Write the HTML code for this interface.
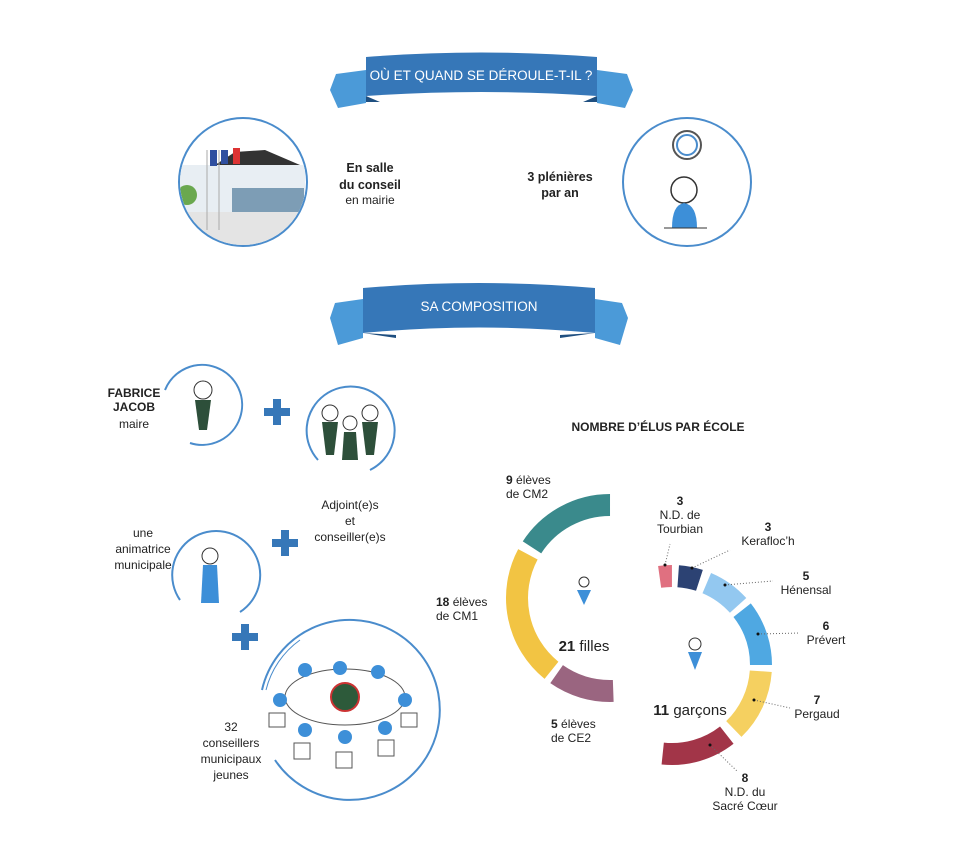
<!DOCTYPE html>
<html><head><meta charset="utf-8"><style>
body{margin:0;background:#fff;}
svg text{font-family:"Liberation Sans",sans-serif;fill:#222;}
</style></head><body>
<svg width="960" height="849" viewBox="0 0 960 849" xmlns="http://www.w3.org/2000/svg">
<defs><clipPath id="c1"><circle cx="243" cy="182" r="63"/></clipPath></defs>
<!-- banner 1 -->
<path d="M366 70 L336 74 L330 90 L338 108 L366 103 Z" fill="#4b9ad8"/>
<path d="M597 70 L627 74 L633 90 L625 108 L597 103 Z" fill="#4b9ad8"/>
<path d="M366 57 Q481 48 597 57 L597 96 Q481 88 366 96 Z" fill="#3677b8"/>
<path d="M366 96 L380 102 L366 102 Z M597 96 L583 102 L597 102Z" fill="#1f4f80"/>
<text x="481" y="80" font-size="13.5" style="fill:#fff" text-anchor="middle">OÙ ET QUAND SE DÉROULE-T-IL ?</text>
<!-- banner 2 -->
<path d="M363 299 L335 303 L330 318 L338 345 L363 338 Z" fill="#4b9ad8"/>
<path d="M595 299 L622 303 L628 318 L620 345 L595 338 Z" fill="#4b9ad8"/>
<path d="M363 288 Q479 278 595 288 L595 333 Q479 322 363 333 Z" fill="#3677b8"/>
<path d="M363 333 L396 335 L396 338 Z M595 333 L560 335 L560 338Z" fill="#1f4f80"/>
<text x="479" y="311" font-size="13.5" style="fill:#fff" text-anchor="middle">SA COMPOSITION</text>

<!-- top circles -->
<circle cx="243" cy="182" r="64" fill="#fff" stroke="#4a8ccc" stroke-width="2"/>
<g clip-path="url(#c1)">
<rect x="175" y="165" width="130" height="50" fill="#e8eef3"/>
<path d="M215 165 L235 152 L265 150 L300 165 Z" fill="#333"/>
<rect x="232" y="188" width="72" height="28" fill="#7d9db5"/>
<rect x="175" y="212" width="130" height="40" fill="#e4e4e4"/>
<rect x="210" y="150" width="7" height="16" fill="#2f4fa0"/><rect x="221" y="150" width="7" height="14" fill="#3050a0"/><rect x="233" y="148" width="7" height="16" fill="#d33"/>
<line x1="207" y1="150" x2="207" y2="230" stroke="#aaa"/><line x1="219" y1="150" x2="219" y2="230" stroke="#aaa"/>
<circle cx="187" cy="195" r="10" fill="#6aa84f"/>
</g>
<circle cx="687" cy="182" r="64" fill="none" stroke="#4a8ccc" stroke-width="2"/>
<circle cx="687" cy="145" r="14" fill="#fff" stroke="#555" stroke-width="2"/>
<circle cx="687" cy="145" r="10" fill="#fff" stroke="#4a8ccc" stroke-width="2"/>
<circle cx="684" cy="190" r="13" fill="#fff" stroke="#333" stroke-width="1.5"/>
<path d="M672 228 Q672 205 684 203 Q697 205 697 228 Z" fill="#3d8fd8"/>
<line x1="664" y1="228" x2="707" y2="228" stroke="#333"/>
<text font-size="12.5" font-weight="bold" text-anchor="middle"><tspan x="370" y="172">En salle</tspan><tspan x="370" y="189">du conseil</tspan></text>
<text x="370" y="204" font-size="12" text-anchor="middle">en mairie</text>
<text font-size="12.5" font-weight="bold" text-anchor="middle"><tspan x="560" y="181">3 plénières</tspan><tspan x="560" y="197">par an</tspan></text>

<!-- composition left -->
<path d="M165 390 A40 40 0 1 1 190 443" fill="none" stroke="#4a8ccc" stroke-width="2"/>
<circle cx="203" cy="390" r="9" fill="#fff" stroke="#333"/><path d="M195 400 L211 400 L207 430 L199 430Z" fill="#2d4f3a"/>
<text font-size="12" font-weight="bold" text-anchor="middle"><tspan x="134" y="397">FABRICE</tspan><tspan x="134" y="411">JACOB</tspan></text>
<text x="134" y="428" font-size="12" text-anchor="middle">maire</text>
<path d="M318 460 A44 44 0 1 1 370 470" fill="none" stroke="#4a8ccc" stroke-width="2"/>
<circle cx="330" cy="413" r="8" fill="#fff" stroke="#333"/><path d="M322 422 L338 422 L334 455 L326 455Z" fill="#2d4f3a"/>
<circle cx="350" cy="423" r="7" fill="#fff" stroke="#333"/><path d="M344 432 L356 432 L358 460 L342 460Z" fill="#2d4f3a"/>
<circle cx="370" cy="413" r="8" fill="#fff" stroke="#333"/><path d="M362 422 L378 422 L374 455 L366 455Z" fill="#2d4f3a"/>
<text font-size="12" text-anchor="middle"><tspan x="350" y="509">Adjoint(e)s</tspan><tspan x="350" y="525">et</tspan><tspan x="350" y="541">conseiller(e)s</tspan></text>
<path d="M180 600 A44 44 0 1 1 240 612" fill="none" stroke="#4a8ccc" stroke-width="2"/>
<circle cx="210" cy="556" r="8" fill="#fff" stroke="#333"/><path d="M203 565 L217 565 L219 603 L201 603Z" fill="#3d8fd8"/>
<text font-size="12" text-anchor="middle"><tspan x="143" y="537">une</tspan><tspan x="143" y="553">animatrice</tspan><tspan x="143" y="569">municipale</tspan></text>
<!-- plus -->
<g fill="#3677b8">
<rect x="264" y="408" width="26" height="8"/><rect x="273" y="399" width="8" height="26"/>
<rect x="272" y="539" width="26" height="8"/><rect x="281" y="530" width="8" height="26"/>
<rect x="232" y="633" width="26" height="8"/><rect x="241" y="624" width="8" height="26"/>
</g>
<!-- conseil big -->
<path d="M262 690 A90 90 0 1 1 275 760" fill="none" stroke="#4a8ccc" stroke-width="2"/>
<path d="M266 690 A87 87 0 0 1 300 640" fill="none" stroke="#4a8ccc" stroke-width="1"/>
<ellipse cx="345" cy="697" rx="60" ry="28" fill="#fff" stroke="#555"/>
<circle cx="345" cy="697" r="14" fill="#2d5a3a" stroke="#c33" stroke-width="2"/>
<g fill="#3d8fd8">
<circle cx="280" cy="700" r="7"/><circle cx="305" cy="670" r="7"/><circle cx="340" cy="668" r="7"/><circle cx="378" cy="672" r="7"/><circle cx="405" cy="700" r="7"/><circle cx="305" cy="730" r="7"/><circle cx="345" cy="737" r="7"/><circle cx="385" cy="728" r="7"/>
</g>
<g fill="#fff" stroke="#555"><rect x="269" y="713" width="16" height="14"/><rect x="294" y="743" width="16" height="16"/><rect x="336" y="752" width="16" height="16"/><rect x="378" y="740" width="16" height="16"/><rect x="401" y="713" width="16" height="14"/></g>
<text font-size="12" text-anchor="middle"><tspan x="231" y="731">32</tspan><tspan x="231" y="747">conseillers</tspan><tspan x="231" y="763">municipaux</tspan><tspan x="231" y="779">jeunes</tspan></text>

<!-- chart title -->
<text x="658" y="431" font-size="12" font-weight="bold" text-anchor="middle">NOMBRE D’ÉLUS PAR ÉCOLE</text>
<!-- left donut -->
<g fill="none" stroke-width="22">
<circle cx="610" cy="598" r="93" stroke="#3a8a8c" stroke-dasharray="92.5 600" transform="rotate(213 610 598)"/>
<circle cx="610" cy="598" r="93" stroke="#f2c443" stroke-dasharray="128.2 600" transform="rotate(129 610 598)"/>
<circle cx="610" cy="598" r="93" stroke="#9a6580" stroke-dasharray="60.1 600" transform="rotate(88 610 598)"/>
</g>
<circle cx="584" cy="582" r="5" fill="#fff" stroke="#333"/><path d="M577 590 L591 590 L584 605Z" fill="#3d8fd8"/>
<text x="584" y="651" font-size="15" text-anchor="middle"><tspan font-weight="bold">21</tspan> filles</text>
<text font-size="12"><tspan x="506" y="484"><tspan font-weight="bold">9</tspan> élèves</tspan><tspan x="506" y="498">de CM2</tspan></text>
<text font-size="12"><tspan x="436" y="606"><tspan font-weight="bold">18</tspan> élèves</tspan><tspan x="436" y="620">de CM1</tspan></text>
<text font-size="12"><tspan x="551" y="728"><tspan font-weight="bold">5</tspan> élèves</tspan><tspan x="551" y="742">de CE2</tspan></text>
<!-- right donut -->
<g fill="none" stroke-width="22">
<circle cx="672" cy="665" r="89" stroke="#e07080" stroke-dasharray="12.4 600" transform="rotate(262 672 665)"/>
<circle cx="672" cy="665" r="89" stroke="#2c4273" stroke-dasharray="21.7 600" transform="rotate(274 672 665)"/>
<circle cx="672" cy="665" r="89" stroke="#93c8f0" stroke-dasharray="38.8 600" transform="rotate(293 672 665)"/>
<circle cx="672" cy="665" r="89" stroke="#4fa8e2" stroke-dasharray="59 600" transform="rotate(322 672 665)"/>
<circle cx="672" cy="665" r="89" stroke="#f5d060" stroke-dasharray="65.2 600" transform="rotate(4 672 665)"/>
<circle cx="672" cy="665" r="89" stroke="#a23548" stroke-dasharray="68.3 600" transform="rotate(52 672 665)"/>
</g>
<circle cx="695" cy="644" r="6" fill="#fff" stroke="#333"/><path d="M688 652 L702 652 L695 670Z" fill="#3d8fd8"/>
<text x="690" y="715" font-size="15" text-anchor="middle"><tspan font-weight="bold">11</tspan> garçons</text>
<g stroke="#666" stroke-dasharray="1 2" fill="none">
<line x1="665" y1="565" x2="670" y2="544"/>
<line x1="692" y1="568" x2="730" y2="550"/>
<line x1="725" y1="585" x2="773" y2="581"/>
<line x1="758" y1="634" x2="800" y2="633"/>
<line x1="754" y1="700" x2="790" y2="708"/>
<line x1="710" y1="745" x2="738" y2="772"/>
</g>
<g fill="#111"><circle cx="665" cy="565" r="1.5"/><circle cx="692" cy="568" r="1.5"/><circle cx="725" cy="585" r="1.5"/><circle cx="758" cy="634" r="1.5"/><circle cx="754" cy="700" r="1.5"/><circle cx="710" cy="745" r="1.5"/></g>
<g font-size="12" text-anchor="middle">
<text><tspan x="680" y="505" font-weight="bold">3</tspan><tspan x="680" y="519">N.D. de</tspan><tspan x="680" y="533">Tourbian</tspan></text>
<text><tspan x="768" y="531" font-weight="bold">3</tspan><tspan x="768" y="545">Kerafloc’h</tspan></text>
<text><tspan x="806" y="580" font-weight="bold">5</tspan><tspan x="806" y="594">Hénensal</tspan></text>
<text><tspan x="826" y="630" font-weight="bold">6</tspan><tspan x="826" y="644">Prévert</tspan></text>
<text><tspan x="817" y="704" font-weight="bold">7</tspan><tspan x="817" y="718">Pergaud</tspan></text>
<text><tspan x="745" y="782" font-weight="bold">8</tspan><tspan x="745" y="796">N.D. du</tspan><tspan x="745" y="810">Sacré Cœur</tspan></text>
</g>
</svg>
</body></html>
